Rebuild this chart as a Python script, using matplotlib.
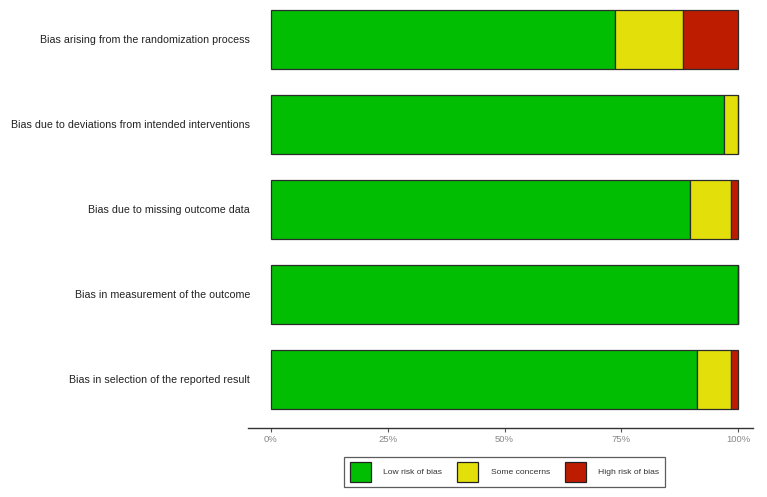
import matplotlib
matplotlib.use("Agg")
import matplotlib.pyplot as plt
from matplotlib.patches import Patch

plt.rcParams['font.family'] = ['Liberation Sans', 'DejaVu Sans']

domains = [
    "Bias arising from the randomization process",
    "Bias due to deviations from intended interventions",
    "Bias due to missing outcome data",
    "Bias in measurement of the outcome",
    "Bias in selection of the reported result",
]
low = [73.6, 97.0, 89.7, 100.0, 91.2]
some = [14.6, 3.0, 8.7, 0.0, 7.2]
high = [11.8, 0.0, 1.6, 0.0, 1.6]
categories = ["Low risk of bias", "Some concerns", "High risk of bias"]
colors = ["#02BE02", "#E3DF0A", "#BE1C00"]

fig = plt.figure(figsize=(7.67, 4.97), dpi=100)
ax = fig.add_axes([248/767, 1-428/497, (753-248)/767, (428-5)/497])

ypos = [len(domains) - 1 - i for i in range(len(domains))]
left = [0.0] * len(domains)
for vals, col in zip([low, some, high], colors):
    w = [v / 100 for v in vals]
    ax.barh(ypos, w, left=left, height=0.69, color=col, edgecolor="#2b2b2b", linewidth=0.9)
    left = [l + x for l, x in zip(left, w)]

ax.set_xlim(-23/467, 1 + 15/467)
ax.set_ylim(-0.57, 4 + 34.5/85)
ax.set_yticks([])
for y, d in zip(ypos, domains):
    ax.text(-0.045, y, d, ha="right", va="center", fontsize=7.7, color="#222222",
            transform=ax.transData, clip_on=False)

ax.set_xticks([0, 0.25, 0.5, 0.75, 1.0])
ax.set_xticklabels(["0%", "25%", "50%", "75%", "100%"], fontsize=6.8, color="#888888")
ax.tick_params(axis="x", length=3, color="#555555", pad=2)
for s in ["top", "right", "left"]:
    ax.spines[s].set_visible(False)
ax.spines["bottom"].set_color("#333333")
ax.spines["bottom"].set_linewidth(1.0)

handles = [Patch(facecolor=c, edgecolor="#222222", linewidth=0.9) for c in colors]
leg = fig.legend(handles, categories, loc="center", bbox_to_anchor=((340+669)/2/767, 1-(455+489)/2/497),
                 ncol=3, fontsize=6.1, frameon=True, fancybox=False, edgecolor="#333333",
                 handlelength=2.5, handleheight=3.3, columnspacing=1.8, handletextpad=1.45,
                 borderpad=0.6)
leg.get_frame().set_linewidth(0.9)
for t in leg.get_texts():
    t.set_color("#333333")

fig.savefig("out.png", dpi=100)
